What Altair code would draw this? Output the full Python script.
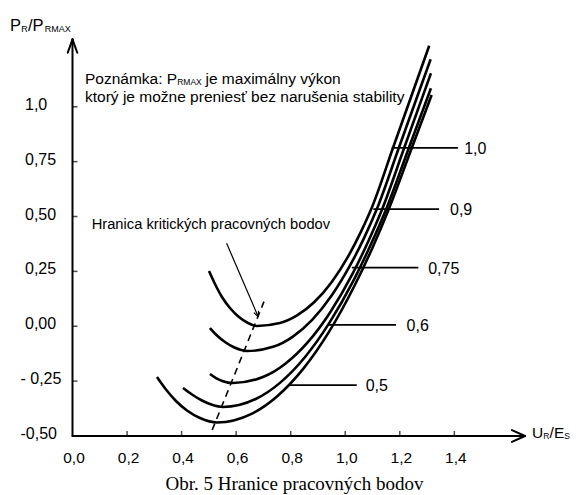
import altair as alt
import pandas as pd

# ---------------- data ----------------
curve_names = ["1,0", "0,9", "0,75", "0,6", "0,5"]

u_10 = [0.5004, 0.5224, 0.5480, 0.5773, 0.6103, 0.6433, 0.6763, 0.7603, 0.8233, 0.8867, 0.9498, 1.0128, 1.0546, 1.0968, 1.1749, 1.3079]
p_10 = [0.2517, 0.1925, 0.1333, 0.0831, 0.0421, 0.0148, 0.0011, 0.0144, 0.0492, 0.1103, 0.2007, 0.3229, 0.4231, 0.5387, 0.8121, 1.2781]

u_09 = [0.5040, 0.5297, 0.5590, 0.5920, 0.6397, 0.7353, 0.8068, 0.8787, 0.9501, 1.0216, 1.0696, 1.1173, 1.1963, 1.3130]
p_09 = [-0.0080, -0.0421, -0.0718, -0.0959, -0.1128, -0.0938, -0.0481, 0.0290, 0.1398, 0.2860, 0.4039, 0.5387, 0.8121, 1.2162]

u_075 = [0.5040, 0.5260, 0.5517, 0.5883, 0.6979, 0.7804, 0.8629, 0.9450, 1.0275, 1.0821, 1.1371, 1.2159, 1.3141]
p_075 = [-0.2175, -0.2358, -0.2503, -0.2585, -0.2314, -0.1706, -0.0725, 0.0641, 0.2405, 0.3805, 0.5387, 0.8121, 1.1524]

u_06 = [0.4051, 0.4380, 0.4747, 0.5114, 0.5517, 0.6716, 0.7617, 0.8519, 0.9417, 1.0319, 1.0916, 1.1518, 1.2331, 1.3141]
p_06 = [-0.2813, -0.3109, -0.3383, -0.3579, -0.3679, -0.3316, -0.2568, -0.1412, 0.0152, 0.2123, 0.3665, 0.5387, 0.8121, 1.0841]

u_05 = [0.3097, 0.3427, 0.3794, 0.4197, 0.4674, 0.5297, 0.6562, 0.7507, 0.8457, 0.9403, 1.0348, 1.0982, 1.1613, 1.2438, 1.3167]
p_05 = [-0.2312, -0.2882, -0.3405, -0.3838, -0.4180, -0.4385, -0.3994, -0.3188, -0.1942, -0.0256, 0.1869, 0.3531, 0.5387, 0.8121, 1.0535]

# boundary of critical operating points (dashed)
boundary_u = [0.512, 0.702]
boundary_p = [-0.473, 0.112]

# leader lines to curve labels
leader_p = [0.813, 0.534, 0.267, 0.006, -0.268]
leader_u0 = [1.170, 1.103, 1.024, 0.938, 0.797]
leader_u1 = [1.413, 1.344, 1.268, 1.186, 1.042]
leader_label_u = [1.436, 1.384, 1.304, 1.225, 1.075]

# axis ticks and labels
x_tick_vals = [0.0, 0.2, 0.4, 0.6, 0.8, 1.0, 1.2, 1.4]
x_tick_text = ["0,0", "0,2", "0,4", "0,6", "0,8", "1,0", "1,2", "1,4"]
y_tick_vals = [1.0, 0.75, 0.5, 0.25, 0.0, -0.25, -0.5]
y_tick_text = ["1,0", "0,75", "0,50", "0,25", "0,00", "- 0,25", "-0,50"]

# axis lines with arrow heads (segments)
axis_u0 = [0.0, 0.0, 0.0, 0.0, 1.659, 1.659]
axis_p0 = [-0.5, 1.307, 1.307, -0.5, -0.5, -0.5]
axis_u1 = [0.0, -0.0176, 0.0176, 1.659, 1.611, 1.611]
axis_p1 = [1.307, 1.246, 1.246, -0.5, -0.473, -0.527]

# pointer arrow from the boundary note
pointer_u0 = [0.565, 0.681, 0.681]
pointer_p0 = [0.378, 0.043, 0.043]
pointer_u1 = [0.681, 0.682, 0.665]
pointer_p1 = [0.043, 0.071, 0.062]

SANS = "Liberation Sans, Arial, sans-serif"
SERIF = "Liberation Serif, Times New Roman, serif"

OX, OY = 72.5, 42.0  # plot origin on the page (for pixel-placed text)

xs = alt.Scale(domain=[0, 1.659], nice=False, zero=False)
ys = alt.Scale(domain=[-0.5, 1.295], nice=False, zero=False)


def X(f):
    return alt.X(f, type="quantitative", scale=xs, axis=None)


def Y(f):
    return alt.Y(f, type="quantitative", scale=ys, axis=None)


rows = []
for name, us, ps in zip(curve_names, [u_10, u_09, u_075, u_06, u_05], [p_10, p_09, p_075, p_06, p_05]):
    for i, (u, p) in enumerate(zip(us, ps)):
        rows.append({"curve": name, "u": u, "p": p, "i": i})
curves_df = pd.DataFrame(rows)

curves = alt.Chart(curves_df).mark_line(
    color="black", strokeWidth=2.6, interpolate="monotone"
).encode(X("u"), Y("p"), detail="curve:N", order="i:Q")

boundary = alt.Chart(pd.DataFrame({"u": boundary_u, "p": boundary_p})).mark_line(
    color="black", strokeWidth=1.6, strokeDash=[7, 5]
).encode(X("u"), Y("p"))

axes_df = pd.DataFrame({"u0": axis_u0, "p0": axis_p0, "u1": axis_u1, "p1": axis_p1})
axes = alt.Chart(axes_df).mark_rule(color="black", strokeWidth=2, strokeCap="round").encode(
    X("u0"), Y("p0"), x2="u1:Q", y2="p1:Q"
)

ptr_df = pd.DataFrame({"u0": pointer_u0, "p0": pointer_p0, "u1": pointer_u1, "p1": pointer_p1})
pointer = alt.Chart(ptr_df).mark_rule(color="black", strokeWidth=1.2).encode(
    X("u0"), Y("p0"), x2="u1:Q", y2="p1:Q"
)

lead_df = pd.DataFrame({"p": leader_p, "u0": leader_u0, "u1": leader_u1,
                        "lu": leader_label_u, "t": curve_names})
leaders = alt.Chart(lead_df).mark_rule(color="black", strokeWidth=1.8).encode(
    X("u0"), x2="u1:Q", y=Y("p")
)
leader_labels = alt.Chart(lead_df).mark_text(
    align="left", baseline="middle", fontSize=16, font=SANS, color="black", dy=1
).encode(X("lu"), Y("p"), text="t:N")

xt_df = pd.DataFrame({"v": x_tick_vals, "t": x_tick_text})
x_ticks = alt.Chart(xt_df).transform_filter("datum.v > 0").transform_calculate(z="-0.5").mark_tick(
    orient="vertical", size=5, thickness=1.5, color="black", yOffset=-2.5
).encode(X("v"), y=alt.Y("z:Q", scale=ys, axis=None))
x_labels = alt.Chart(xt_df).mark_text(
    align="center", baseline="alphabetic", fontSize=15.5, font=SANS, color="black", dx=1.5
).encode(X("v"), y=alt.value(463 - OY), text="t:N")

yt_df = pd.DataFrame({"v": y_tick_vals, "t": y_tick_text})
y_ticks = alt.Chart(yt_df).transform_filter("datum.v > -0.5").transform_calculate(z="0").mark_tick(
    orient="horizontal", size=5, thickness=1.5, color="black", xOffset=2.5
).encode(x=alt.X("z:Q", scale=xs, axis=None), y=Y("v"))
y_labels_pos = alt.Chart(yt_df).transform_filter("datum.v >= 0").mark_text(
    align="left", baseline="middle", fontSize=16, font=SANS, color="black", dy=-2
).encode(x=alt.value(25 - OX), y=Y("v"), text="t:N")
y_labels_neg = alt.Chart(yt_df).transform_filter("datum.v < 0").mark_text(
    align="left", baseline="middle", fontSize=16, font=SANS, color="black", dy=-2
).encode(x=alt.value(20.5 - OX), y=Y("v"), text="t:N")


def label(text, x, y, size, font=SANS, align="left"):
    return alt.Chart(pd.DataFrame({"t": [text]})).mark_text(
        align=align, baseline="alphabetic", fontSize=size, font=font, color="black"
    ).encode(text="t:N", x=alt.value(x - OX), y=alt.value(y - OY))


texts = [
    # y axis title P_R / P_RMAX
    label("P", 10, 30.7, 16.5),
    label("R", 21.3, 32, 9),
    label("/P", 28, 30.7, 16.5),
    label("RMAX", 44.7, 32, 9),
    # x axis title U_R / E_S
    label("U", 532, 437.5, 15.5),
    label("R", 543.3, 438.8, 8.5),
    label("/E", 549.6, 437.5, 15.5),
    label("S", 564.2, 438.8, 8.5),
    # note
    label("Poznámka:", 85, 83.5, 15.5),
    label("P", 166.8, 83.5, 15.5),
    label("RMAX", 177.2, 85.3, 8.5),
    label("je maximálny výkon", 205.5, 83.5, 15.5),
    label("ktorý je možne preniesť bez narušenia stability", 85, 101.5, 15.5),
    # boundary note
    label("Hranica kritických pracovných bodov", 91.7, 229.3, 14.7),
    # caption
    label("Obr. 5 Hranice pracovných bodov", 294.5, 490, 19, font=SERIF, align="center"),
]

chart = alt.layer(
    axes, x_ticks, y_ticks, x_labels, y_labels_pos, y_labels_neg,
    curves, boundary, pointer, leaders, leader_labels, *texts
).properties(
    width=452.5,
    height=394,
    padding={"left": 64.5, "top": 34, "right": 46, "bottom": 59},
    autosize=alt.AutoSizeParams(type="none"),
    background="white",
).configure_view(stroke=None)

chart.save("out.html", embed_options={"renderer": "svg", "actions": False})
